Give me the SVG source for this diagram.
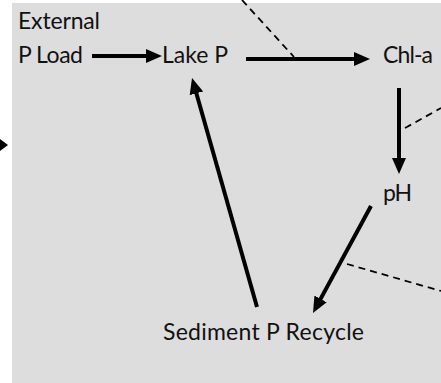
<svg xmlns="http://www.w3.org/2000/svg" width="441" height="383" viewBox="0 0 441 383">
<style>
.lbl{font-family:Lato,"Open Sans","Liberation Sans",sans-serif;font-size:23px;fill:#111}
.arr{stroke:#000;stroke-width:4;fill:none}
.dash{stroke:#000;stroke-width:1.8;stroke-dasharray:7,5;fill:none}
</style>
<defs>
<marker id="ah" markerUnits="userSpaceOnUse" markerWidth="16" markerHeight="14" refX="4" refY="7" orient="auto" viewBox="0 0 16 14">
<path d="M0,0 L16,7 L0,14 z" fill="#000"/>
</marker>
</defs>
<rect x="12" y="3" width="429" height="380" fill="#dddddd"/>
<g id="connectors">
<line class="arr" x1="92" y1="56" x2="150" y2="56" marker-end="url(#ah)"/>
<line class="arr" x1="246" y1="59" x2="358" y2="59" marker-end="url(#ah)"/>
<line class="arr" x1="399" y1="88" x2="399" y2="162" marker-end="url(#ah)"/>
<line class="arr" x1="371" y1="206" x2="318.7" y2="302.4" marker-end="url(#ah)"/>
<line class="arr" x1="257" y1="307" x2="195.3" y2="89.5" marker-end="url(#ah)"/>
<polygon points="0,139 8,145 0,151" fill="#000"/>
<line class="dash" x1="242" y1="0" x2="294" y2="57"/>
<line class="dash" x1="405" y1="128" x2="441" y2="108"/>
<line class="dash" x1="347" y1="264" x2="441" y2="291"/>
</g>
<g id="external-p-load">
<text class="lbl" x="18" y="29" textLength="82">External</text>
<text class="lbl" x="18" y="63" textLength="65">P Load</text>
</g>
<g id="lake-p"><text class="lbl" x="162" y="63" textLength="66">Lake P</text></g>
<g id="chl-a"><text class="lbl" x="383" y="63" textLength="50">Chl-a</text></g>
<g id="ph"><text class="lbl" x="383" y="201" textLength="29">pH</text></g>
<g id="sediment-p-recycle"><text class="lbl" x="163" y="340" textLength="201">Sediment P Recycle</text></g>
</svg>
